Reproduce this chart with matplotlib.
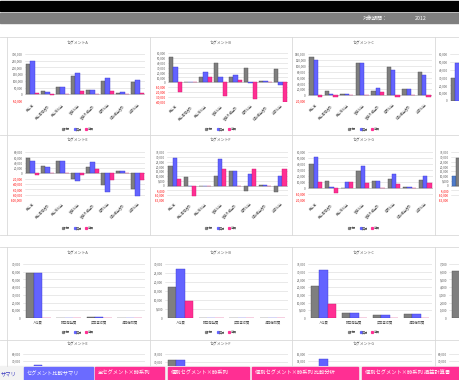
import matplotlib
matplotlib.use("Agg")
import matplotlib.pyplot as plt
from matplotlib.patches import Rectangle
from matplotlib.lines import Line2D
import numpy as np

plt.rcParams["font.family"] = ["Noto Sans CJK JP", "DejaVu Sans"]

W, H = 460, 380

# ---- data ----
pl_cats = ["売上高", "売上原価合計", "売上総利益", "営業利益", "営業外損益計", "経常利益", "特別損益合計", "当期利益"]
cost_cats = ["人件費", "研究開発費", "広告宣伝費", "減価償却費"]
legend_labels = ["計画", "実績", "差異"]

a_plan = [224000, 24000, 56000, 137000, 32000, 102000, 7000, 90000]
a_act = [246000, 20000, 56000, 161000, 32000, 124000, 15000, 105000]
a_diff = [12000, -3000, 0, 22000, 0, 24000, 5000, 12000]

b_plan = [52000, 1000, 10000, 40000, 10000, 30000, 3000, 27000]
b_act = [31000, 0, 21000, 12000, 15000, -1000, 3000, -5000]
b_diff = [-19000, 0, 10000, -27000, 5000, -33000, 0, -40000]

c_plan = [130000, 13000, 5000, 110000, 14000, 97000, 20000, 79000]
c_act = [120000, 4000, 5000, 110000, 24000, 86000, 20000, 68000]
c_diff = [-8000, -8000, 0, 0, 9000, -8000, 0, -8000]

d_plan = [29000]
d_act = [49000]

e_plan = [56000, 29000, 46000, -20000, 23000, -45000, 8000, -57000]
e_act = [45000, 25000, 46000, -28000, 41000, -70000, 8000, -84000]
e_diff = [-8000, 0, 0, -6000, 16000, -25000, 0, -25000]

f_plan = [20000, 9400, 0, 10000, 15000, -5600, 700, -7000]
f_act = [28700, 0, 0, 28000, 15000, 12000, 700, 10500]
f_diff = [7000, -10500, 0, 17000, 0, 17000, 0, 17000]

g_plan = [40500, 11000, 500, 28000, 11000, 15500, 2000, 13000]
g_act = [51000, 2000, 9500, 37000, 12000, 24000, 2000, 20500]
g_diff = [9500, -9000, 9500, 8000, 500, 7000, 0, 8000]

h_first = [10500]
h_second = [29000]

a3_plan = [58000, 0, 1300, 500]
a3_act = [58000, 0, 1300, 500]
a3_diff = [0, 0, 0, 0]

b3_plan = [17400, 0, 200, 200]
b3_act = [27000, 0, 200, 200]
b3_diff = [9300, 0, 0, 0]

c3_plan = [20800, 3400, 1700, 2600]
c3_act = [30900, 3400, 1700, 2600]
c3_diff = [9200, 0, 0, 0]

d3_plan = [6100]

e4_plan = [55000]
e4_act = [64000]
f4_plan = [31000]
f4_act = [31000]
g4_plan = [12000]
g4_act = [14500]

tabs = ["サマリ", "セグメント比較サマリ", "全セグメント×時系列", "個別セグメント×時系列",
        "個別セグメント×時系列 比較分析", "個別セグメント×時系列 損益計算書"]

GRAY, BLUE, PINK = "#7f7f7f", "#6363ff", "#ff2f93"
EDGES = {GRAY: "#4d4d4d", BLUE: "#3a3ad0", PINK: "#d0196f", "#4f7ccb": "#2f5597"}
TAB_TOP = 366

fig = plt.figure(figsize=(W / 100, H / 100), dpi=100)

# background canvas in pixel coordinates
bg = fig.add_axes([0, 0, 1, 1])
bg.set_xlim(0, W)
bg.set_ylim(H, 0)
bg.axis("off")

bg.add_patch(Rectangle((0, 1), W, 10, color="black"))
bg.add_patch(Rectangle((0, 13), W, 10, color="#7f7f7f"))
bg.text(363, 18.5, "対象期間：", color="white", fontsize=3.6, va="center")
bg.text(415, 18.5, "2012", color="white", fontsize=3.8, va="center")

# panel grid lines
line_c = "#d9d9d9"
for x in [7, 150, 292, 435]:
    bg.plot([x, x], [37, 235], color=line_c, lw=0.6)
    bg.plot([x, x], [247, TAB_TOP], color=line_c, lw=0.6)
for y in [37, 135, 235, 247, 340]:
    bg.plot([0, W], [y, y], color=line_c, lw=0.6)


def chart(rect, cats, series, colors, ticks, rotate=True):
    # rect is the full plot area in pixels; only the part inside the
    # visible sheet (x < W, y < TAB_TOP) gets an axes
    x0, y0, x1, y1 = rect
    vx1, vy1 = min(x1, W), min(y1, TAB_TOP)
    ax = fig.add_axes([x0 / W, 1 - vy1 / H, (vx1 - x0) / W, (vy1 - y0) / H])
    n = len(cats)
    w = 0.27
    for i, (vals, col) in enumerate(zip(series, colors)):
        xs = np.arange(len(vals)) + (i - 1) * w
        ax.bar(xs, vals, w, color=col, edgecolor=EDGES[col], linewidth=0.3, zorder=3)
    xr = -0.5 + n * (vx1 - x0) / (x1 - x0)
    ymax, ymin = ticks[-1], ticks[0]
    yb = ymax - (ymax - ymin) * (vy1 - y0) / (y1 - y0)
    ax.set_xlim(-0.5, xr)
    ax.set_ylim(yb, ymax)
    shown = [t for t in ticks if t >= yb - 1]
    ax.set_yticks(shown)
    ax.set_yticklabels([f"{t:,}" for t in shown], fontsize=2.2, color="#595959")
    for lab, t in zip(ax.get_yticklabels(), shown):
        if t < 0:
            lab.set_color("red")
    if x1 <= W and y1 <= TAB_TOP:
        ax.set_xticks(range(n))
        if rotate:
            ax.set_xticklabels(cats, fontsize=2.3, color="#595959", rotation=45,
                               ha="right", rotation_mode="anchor")
        else:
            ax.set_xticklabels(cats, fontsize=2.3, color="#595959")
    else:
        ax.set_xticks([])
    ax.grid(axis="y", color=line_c, lw=0.4, zorder=0)
    ax.axhline(0, color="#bfbfbf", lw=0.5, zorder=2)
    for s in ax.spines.values():
        s.set_visible(False)
    ax.tick_params(length=0, pad=1.5)
    ax.set_facecolor("none")
    return ax


def legend(cx, cy):
    handles = [Line2D([], [], ls="", marker="s", markersize=1.3, color=c) for c in (GRAY, BLUE, PINK)]
    fig.legend(handles, legend_labels, loc="center", bbox_to_anchor=(cx / W, 1 - cy / H),
               ncol=3, fontsize=2.2, frameon=False, handlelength=0.5, handletextpad=0.2,
               columnspacing=1.2, labelcolor="#595959")


C3 = [GRAY, BLUE, PINK]
centers = [78, 221, 364]

# row 1
chart((25, 54, 145, 101), pl_cats, [a_plan, a_act, a_diff], C3, list(range(-50000, 300001, 50000)))
chart((168, 53, 288, 102), pl_cats, [b_plan, b_act, b_diff], C3, list(range(-40000, 60001, 10000)))
chart((308, 54, 432, 101), pl_cats, [c_plan, c_act, c_diff], C3, list(range(-20000, 140001, 20000)))
chart((450, 54, 570, 101), pl_cats, [d_plan, d_act], [GRAY, BLUE], list(range(0, 60001, 10000)))
for cx, t in zip(centers, "ABC"):
    bg.text(cx, 44, "セグメント" + t, fontsize=2.8, color="#595959", ha="center", va="center")
    legend(cx, 129)

# row 2
chart((25, 152, 145, 200), pl_cats, [e_plan, e_act, e_diff], C3, list(range(-100000, 80001, 20000)))
chart((167, 152, 288, 200), pl_cats, [f_plan, f_act, f_diff], C3, list(range(-15000, 35001, 5000)))
chart((308, 152, 433, 200), pl_cats, [g_plan, g_act, g_diff], C3, list(range(-20000, 60001, 10000)))
chart((451, 152, 571, 200), pl_cats, [h_first, h_second], ["#4f7ccb", GRAY], list(range(-15000, 35001, 5000)))
for cx, t in zip(centers, "EFG"):
    bg.text(cx, 141, "セグメント" + t, fontsize=2.8, color="#595959", ha="center", va="center")
    legend(cx, 228)

# row 3
chart((23, 264, 145, 318), cost_cats, [a3_plan, a3_act, a3_diff], C3, list(range(0, 70001, 10000)), False)
chart((165, 264, 288, 318), cost_cats, [b3_plan, b3_act, b3_diff], C3, list(range(0, 30001, 5000)), False)
chart((308, 264, 432, 318), cost_cats, [c3_plan, c3_act, c3_diff], C3, list(range(0, 35001, 5000)), False)
chart((449, 264, 571, 318), cost_cats, [d3_plan], [GRAY], list(range(0, 7001, 1000)), False)
for cx, t in zip(centers, "ABC"):
    bg.text(cx, 254, "セグメント" + t, fontsize=2.8, color="#595959", ha="center", va="center")
    legend(cx, 332)

# row 4 (cut off by the sheet tabs)
chart((23, 354, 145, 408), cost_cats, [e4_plan, e4_act], [GRAY, BLUE], list(range(0, 80001, 10000)), False)
chart((165, 354, 288, 408), cost_cats, [f4_plan, f4_act], [GRAY, BLUE], list(range(0, 35001, 5000)), False)
chart((308, 354, 432, 408), cost_cats, [g4_plan, g4_act], [GRAY, BLUE], list(range(0, 16001, 2000)), False)
chart((449, 354, 571, 408), cost_cats, [], [], list(range(0, 80001, 10000)), False)
for cx, t in zip(centers, "EFG"):
    bg.text(cx, 345, "セグメント" + t, fontsize=2.8, color="#595959", ha="center", va="center")

# sheet tabs
tab_x = [(0, 22), (24, 93), (95, 164), (168, 249), (252, 358), (362, 460)]
tab_bg = ["#f2f2f2", "#6b6bff", PINK, PINK, PINK, PINK]
tab_fg = ["#3b3bbf", "white", "white", "white", "white", "white"]
bg.add_patch(Rectangle((0, TAB_TOP), W, H - TAB_TOP, color="#f2f2f2"))
for name, (x0, x1), bgc, fgc in zip(tabs, tab_x, tab_bg, tab_fg):
    bg.add_patch(Rectangle((x0, TAB_TOP + 1), x1 - x0, H - TAB_TOP - 1, color=bgc))
    bg.text(x0 + 3 if x0 > 0 else 0.5, 373.5, name, color=fgc, fontsize=3.8,
            va="center", ha="left", clip_on=True)

fig.savefig("out.png", dpi=100)
